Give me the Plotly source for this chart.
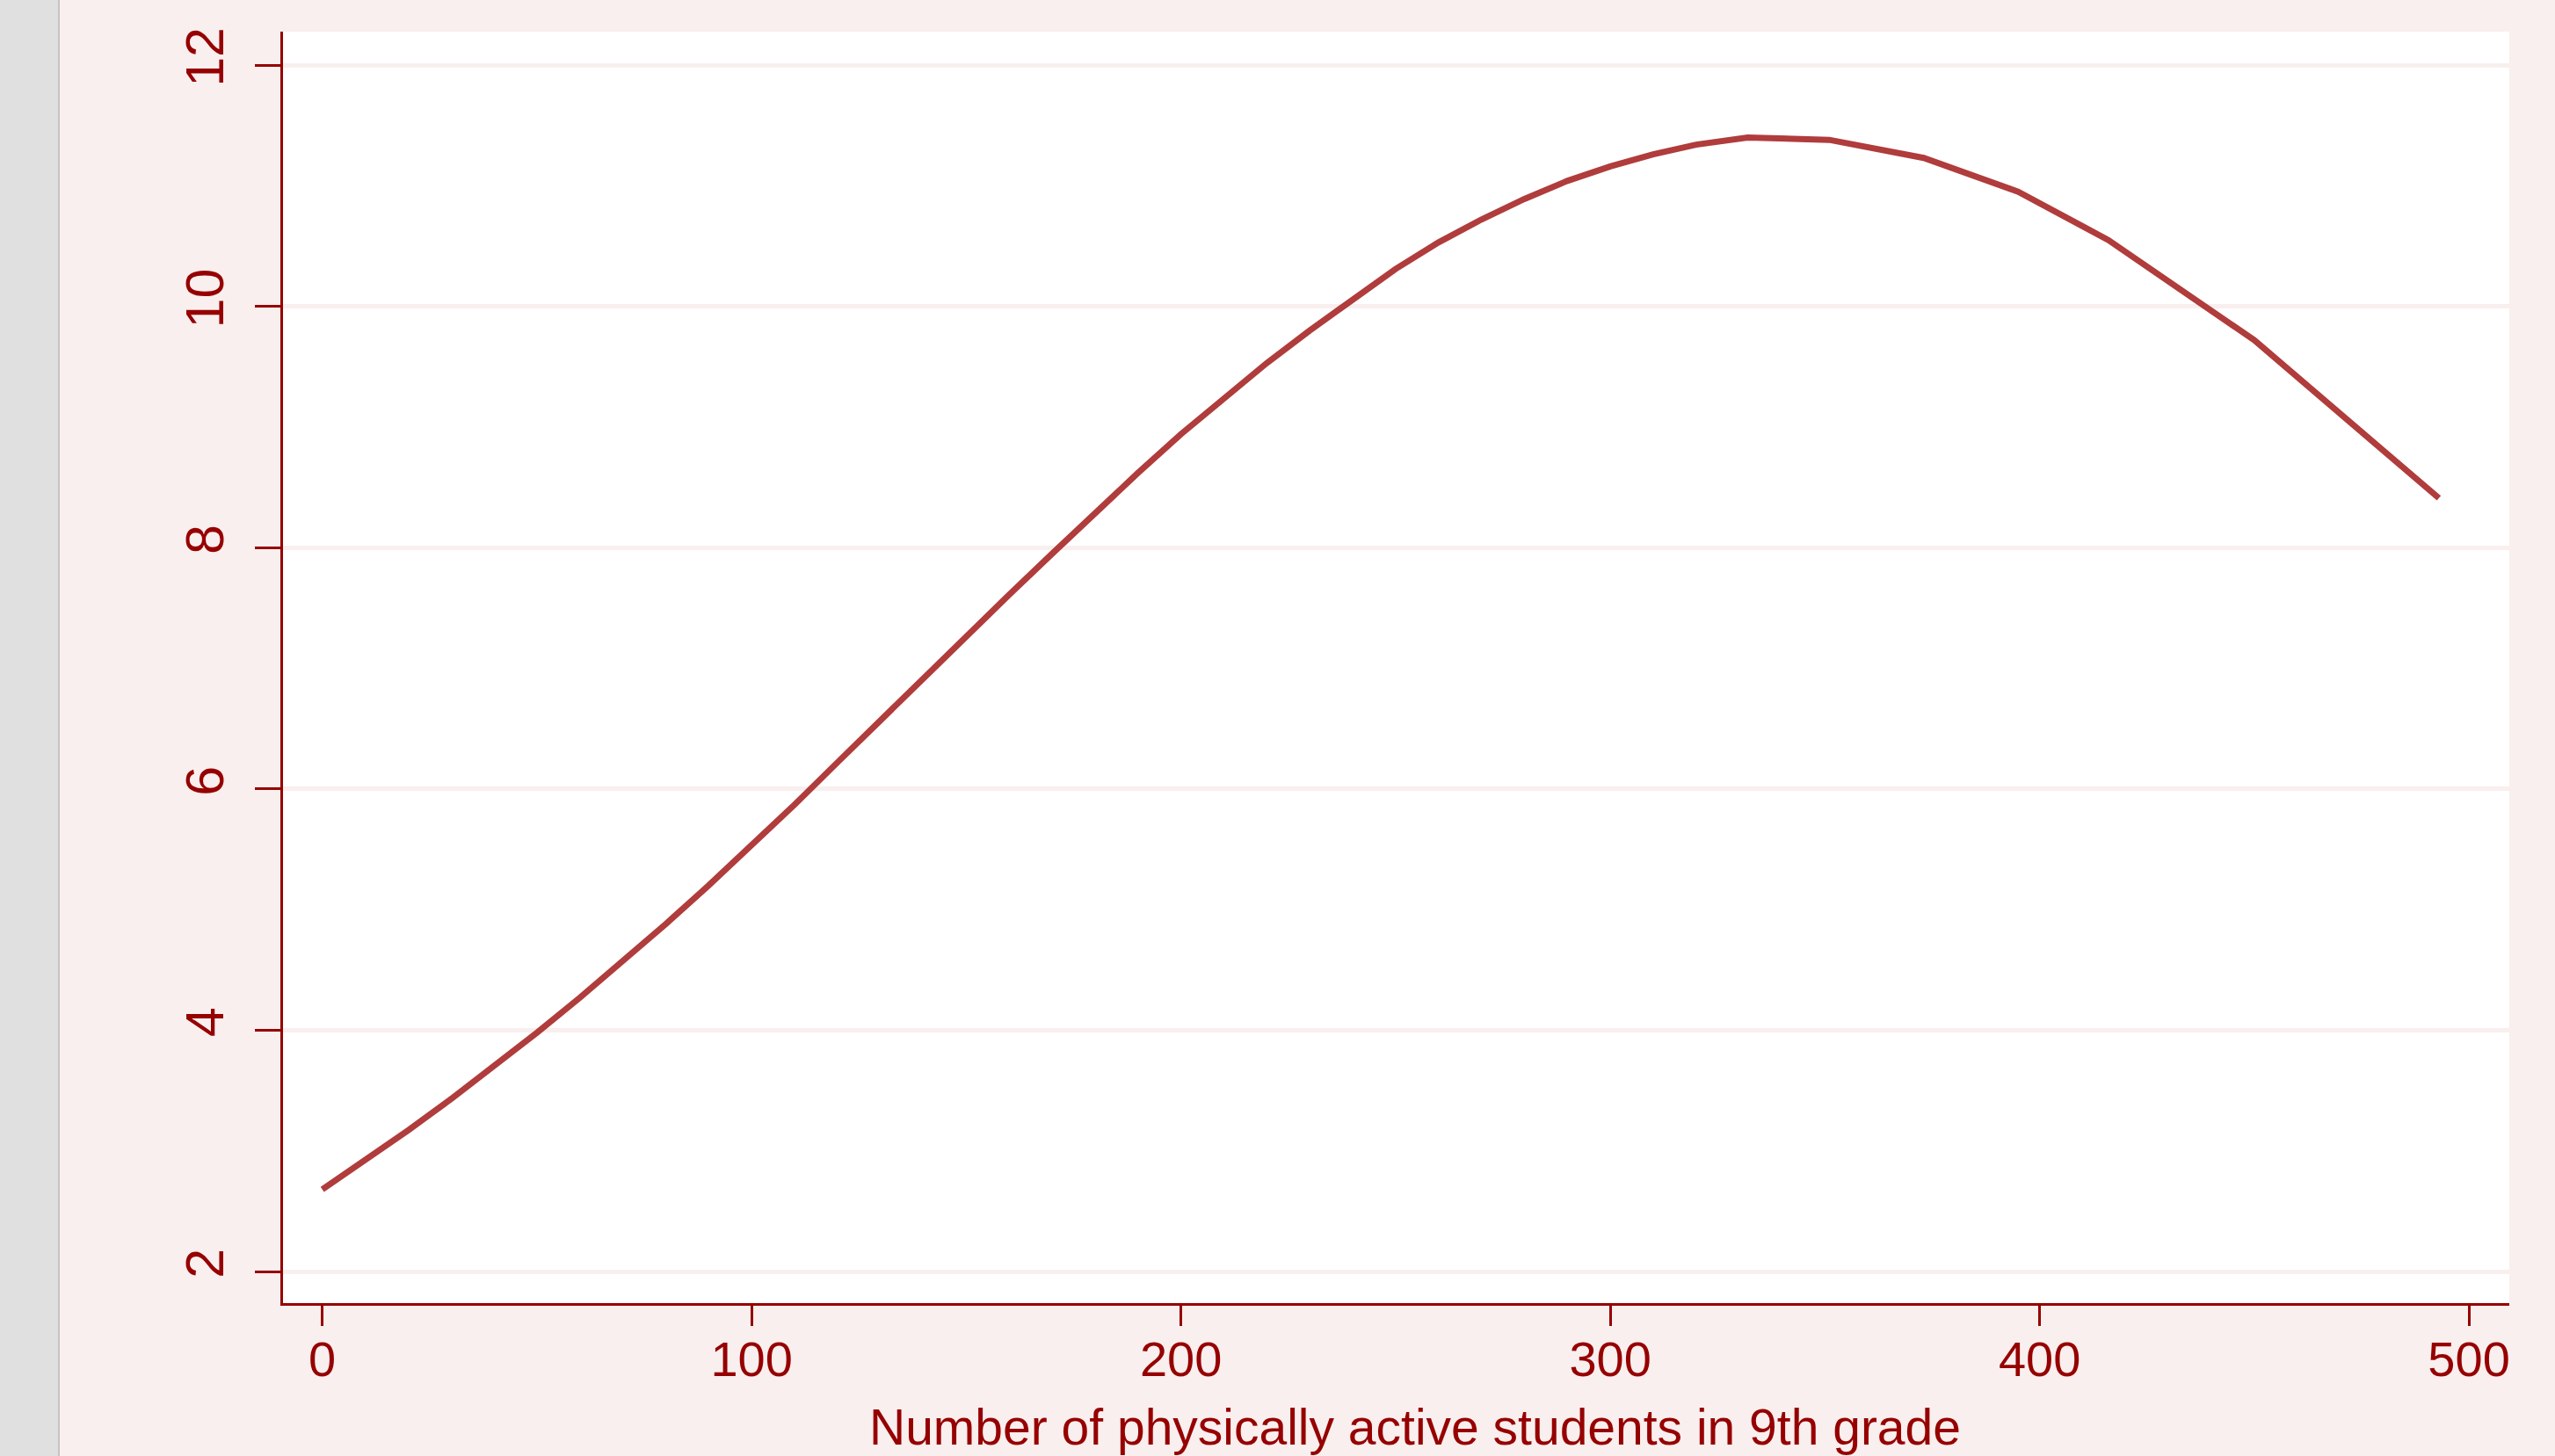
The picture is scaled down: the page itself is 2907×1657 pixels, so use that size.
import plotly.graph_objects as go

# Data
students = [0, 10, 20, 30, 40, 50, 60, 70, 80, 90, 100, 110, 120, 130, 140, 150, 160,
            170, 180, 190, 200, 210, 220, 230, 240, 250, 260, 270, 280, 290, 300, 310,
            320, 332, 351, 373, 395, 416, 450, 493]
fitted = [2.68, 2.92, 3.17, 3.43, 3.70, 3.98, 4.27, 4.57, 4.88, 5.20, 5.53, 5.87, 6.22,
          6.57, 6.92, 7.27, 7.61, 7.95, 8.29, 8.62, 8.94, 9.24, 9.53, 9.80, 10.06, 10.31,
          10.53, 10.72, 10.89, 11.04, 11.16, 11.26, 11.34, 11.40, 11.38, 11.23, 10.95,
          10.55, 9.72, 8.41]

x_ticks = [0, 100, 200, 300, 400, 500]
y_ticks = [2, 4, 6, 8, 10, 12]
x_title = "Number of physically active students in 9th grade"

W, H = 2907, 1657
L, R, T, B = 322, 2855, 36, 1483

axis_col = "#960000"
line_col = "#b03c3c"
bg_col = "#f8efee"
font_fam = "Liberation Sans, Arial, sans-serif"

fig = go.Figure()
fig.add_trace(go.Scatter(x=students, y=fitted, mode="lines",
                         line=dict(color=line_col, width=7), showlegend=False))

fig.update_layout(
    width=W, height=H,
    margin=dict(l=L, r=W - R, t=T, b=H - B, pad=0, autoexpand=False),
    paper_bgcolor=bg_col, plot_bgcolor="white",
    font=dict(family=font_fam, color=axis_col),
    xaxis=dict(range=[-9.15, 509.4], tickvals=x_ticks, showgrid=False, zeroline=False,
               automargin=False,
               showline=True, linecolor=axis_col, linewidth=3,
               ticks="outside", ticklen=23, tickwidth=3, tickcolor=axis_col,
               ticklabelstandoff=-10,
               tickfont=dict(size=56, color=axis_col, family=font_fam)),
    yaxis=dict(range=[1.738, 12.277], tickvals=y_ticks, showgrid=True, gridcolor=bg_col,
               gridwidth=5, zeroline=False, automargin=False,
               showline=True, linecolor=axis_col, linewidth=3,
               ticks="outside", ticklen=29, tickwidth=3, tickcolor=axis_col,
               tickangle=-90, ticklabelstandoff=12,
               tickfont=dict(size=61, color=axis_col, family=font_fam)),
)

# x-axis title placed as an annotation at the bottom of the page
fig.add_annotation(text=x_title, xref="paper", yref="paper",
                   x=(1610 - L) / (R - L), y=-(1624 - B) / (B - T),
                   xanchor="center", yanchor="middle", showarrow=False,
                   font=dict(size=57, color=axis_col, family=font_fam))

# gray strip at the left edge of the page
px = lambda v: (v - L) / (R - L)
fig.add_shape(type="rect", xref="paper", yref="paper", x0=px(0), x1=px(66),
              y0=-0.3, y1=1.2, fillcolor="#e0e0e0", line=dict(width=0), layer="above")
fig.add_shape(type="line", xref="paper", yref="paper", x0=px(67), x1=px(67),
              y0=-0.3, y1=1.2, line=dict(color="#c4c4c4", width=2), layer="above")

fig.write_html("out.html", config={"displayModeBar": False},
               post_script="document.body.style.margin='0';")
